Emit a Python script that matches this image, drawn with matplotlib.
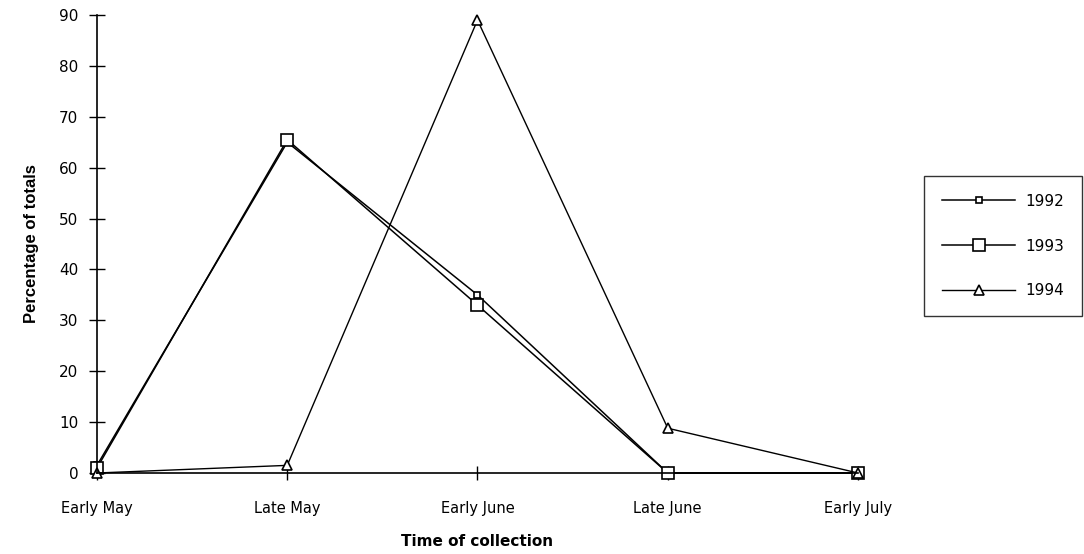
import matplotlib
matplotlib.use("Agg")
import matplotlib.pyplot as plt
import numpy as np

categories = ["Early May", "Late May", "Early June", "Late June", "Early July"]
y1992 = [1.5, 65, 35, 0, 0]
y1993 = [1, 65.5, 33, 0, 0]
y1994 = [0, 1.5, 89, 8.8, 0]
yticks = [0, 10, 20, 30, 40, 50, 60, 70, 80, 90]

plt.rcParams['font.family'] = ['DejaVu Sans']
fig = plt.figure(figsize=(10.84, 5.54), dpi=100)
ax = fig.add_axes([97/1084, 1-473/554, (858-97)/1084, (473-15)/554])
x = np.arange(len(categories))
ax.plot(x, y1992, color='black', lw=1.1, marker='s', ms=4.5, mfc='white', mec='black', mew=1.2, label='1992', clip_on=False)
ax.plot(x, y1993, color='black', lw=1.1, marker='s', ms=8, mfc='white', mec='black', mew=1.2, label='1993', clip_on=False)
ax.plot(x, y1994, color='black', lw=1.0, marker='^', ms=7, mfc='white', mec='black', mew=1.2, label='1994', clip_on=False)
ax.set_xlim(0, 4)
ax.set_ylim(0, 90)
ax.set_yticks(yticks)
ax.set_xticks(x)
ax.set_xticklabels(categories, fontsize=10.5)
ax.tick_params(axis='y', labelsize=11, direction='inout', length=11, width=1, pad=8)
ax.tick_params(axis='x', direction='inout', length=10, width=1, pad=15)
for s in ['top', 'right']:
    ax.spines[s].set_visible(False)
for s in ['left', 'bottom']:
    ax.spines[s].set_linewidth(1.2)
ax.set_ylabel('Percentage of totals', fontsize=12, fontweight='bold',
              family=['Liberation Sans', 'DejaVu Sans'], labelpad=14)
ax.set_xlabel('Time of collection', fontsize=11, fontweight='bold', labelpad=13)
leg = fig.legend(loc='center', bbox_to_anchor=(929/1084, 1-318/554, 148/1084, 144/554),
                 frameon=True, fancybox=False, edgecolor='black', fontsize=11,
                 handlelength=4.8, handletextpad=0.65, labelspacing=1.95, borderpad=1.15)
leg.get_frame().set_linewidth(1.0)
fig.savefig('out.png', dpi=100)
